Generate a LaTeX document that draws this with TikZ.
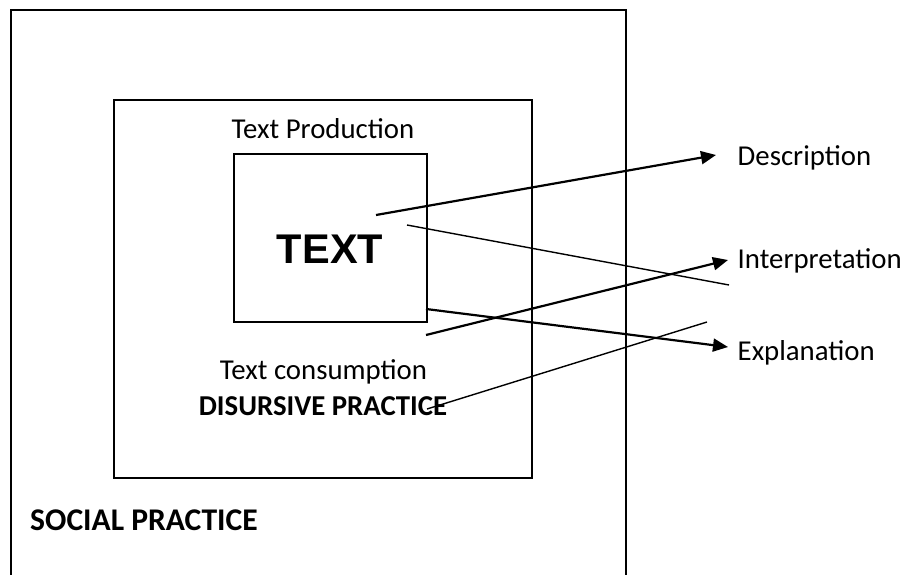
\documentclass[tikz,border=0pt]{standalone}
\usepackage{fontspec}
\setmainfont{Carlito}
\newfontfamily\arialfont{Liberation Sans}
\usetikzlibrary{arrows.meta}
\tikzset{
  lbl/.style={inner sep=0pt, font=\fontsize{28.8}{32}\selectfont},
  boldlbl/.style={lbl, font=\fontsize{28.8}{32}\selectfont\bfseries},
  frame/.style={draw=black, line width=1.7pt, inner sep=0pt},
  thickarrow/.style={line width=2.2pt, -{Triangle[length=15pt,width=13pt]}},
  thinline/.style={line width=1.4pt}
}
\begin{document}
\begin{tikzpicture}[x=1pt,y=-1pt]
\useasboundingbox (0,0) rectangle (907,575);
% outer box (social practice), bottom edge beyond picture
\coordinate (obl) at (10.5,576);
\coordinate (otl) at (10.5,10);
\coordinate (otr) at (626,10);
\coordinate (obr) at (626,576);
\draw[line width=2pt] (obl) -- (otl) -- (otr) -- (obr);
% inner box (discursive practice)
\node[frame, minimum width=418pt, minimum height=378pt] (disc) at (323,289) {};
% text box
\node[frame, minimum width=193pt, minimum height=168pt] (textbox) at (330.5,238) {};
% labels
\node[lbl, anchor=base] (prod) at (323,139) {Text Production};
\node[inner sep=0pt, anchor=base, font=\arialfont\fontsize{41.5}{44}\selectfont\bfseries] (text) at (330,263) {TEXT};
\node[lbl, anchor=base] (cons) at (323.5,379) {Text consumption};
\node[boldlbl, anchor=base] (dp) at (323,415) {DISURSIVE PRACTICE};
\node[inner sep=0pt, font=\fontsize{31.6}{34}\selectfont\bfseries, anchor=base west] (sp) at (30,530) {SOCIAL PRACTICE};
\node[lbl, anchor=base west] (desc) at (737.5,165) {Description};
\node[lbl, anchor=base west] (interp) at (737.5,268) {Interpretation};
\node[lbl, anchor=base west] (expl) at (737.5,360) {Explanation};
% connector end points
\coordinate (a1s) at (376,215);
\coordinate (a1e) at (716,155);
\coordinate (l2s) at (407,225);
\coordinate (l2e) at (729,285);
\coordinate (a3s) at (426,335);
\coordinate (a3e) at (728,260);
\coordinate (a4s) at (426,309);
\coordinate (a4e) at (728,347);
\coordinate (l5s) at (707,322);
\coordinate (l5e) at (427,409);
% connectors
\draw[thickarrow] (a1s) -- (a1e);
\draw[thinline] (l2s) -- (l2e);
\draw[thickarrow] (a3s) -- (a3e);
\draw[thickarrow] (a4s) -- (a4e);
\draw[thinline] (l5s) -- (l5e);
\end{tikzpicture}
\end{document}
